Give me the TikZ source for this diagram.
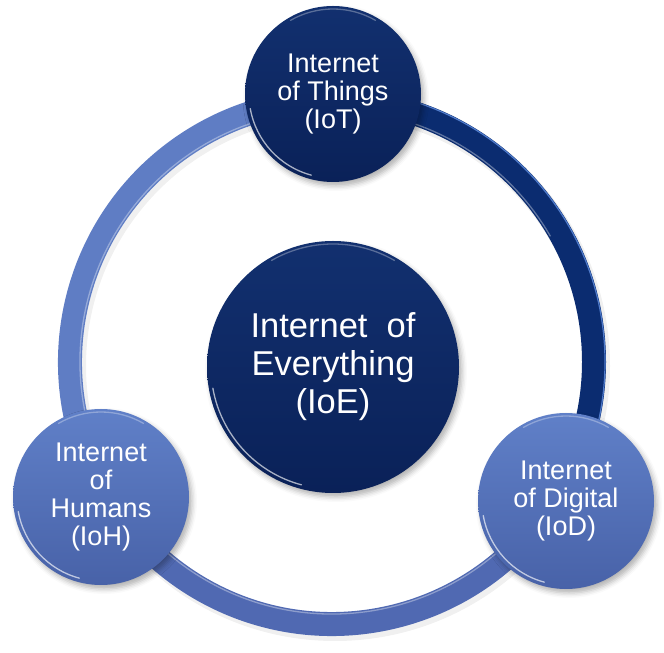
\documentclass[tikz,border=0pt]{standalone}
\usepackage{fontspec}
\setmainfont{Liberation Sans}
\usetikzlibrary{shadows.blur}

\definecolor{navytop}{HTML}{12306F}
\definecolor{navybot}{HTML}{0A2158}
\definecolor{bluetop}{HTML}{6080C8}
\definecolor{bluebot}{HTML}{4862A8}
\definecolor{ringnavy}{HTML}{0B2C70}
\definecolor{ringedge}{HTML}{4F7BCB}
\definecolor{ringlow}{HTML}{5069B2}
\definecolor{ringleft}{HTML}{5F7DC4}

\tikzset{
    hub/.style={circle, minimum size=252pt, inner sep=0pt, align=center,
        text=white, font=\fontsize{34.5}{38}\selectfont,
        top color=navytop, bottom color=navybot,
        blur shadow={shadow xshift=3pt, shadow yshift=-4pt,
                     shadow blur radius=5pt, shadow opacity=30}},
    darkspoke/.style={circle, minimum size=176pt, inner sep=0pt, align=center,
        text=white, font=\fontsize{27}{28}\selectfont,
        top color=navytop, bottom color=navybot,
        blur shadow={shadow xshift=3pt, shadow yshift=-4pt,
                     shadow blur radius=5pt, shadow opacity=30}},
    lightspoke/.style={darkspoke, top color=bluetop, bottom color=bluebot},
    ringpart/.style={line width=24pt},
    rim/.style={white, line width=1.3pt, opacity=.65, line cap=round},
}

\begin{document}
\begin{tikzpicture}[x=1pt, y=1pt]
    \useasboundingbox (0,0) rectangle (664,653);
    \coordinate (ringc) at (332,291);

    % ring behind the circles
    \draw[gray, line width=26pt, opacity=.12] ([shift={(3,-4)}]ringc) circle (262);
    \draw[ringpart, ringnavy] (ringc) ++(90:262)  arc[start angle=90,  end angle=-30, radius=262];
    \draw[ringpart, ringlow]  (ringc) ++(-30:262) arc[start angle=-30, end angle=-150, radius=262];
    \draw[ringpart, ringleft] (ringc) ++(210:262) arc[start angle=210, end angle=90, radius=262];
    \draw[ringedge, line width=1.2pt] (ringc) ++(90:273) arc[start angle=90, end angle=-30, radius=273];
    \draw[rim, opacity=.35] (ringc) ++(-30:252) arc[start angle=-30, end angle=-330, radius=252];

    % circles
    \node[hub] (IoE) at (333,286) {Internet\ \ of\\Everything\\(IoE)};
    \node[darkspoke] (IoT) at (333,559) {Internet\\of Things\\(IoT)};
    \node[lightspoke] (IoH) at (101,156) {Internet\\of\\Humans\\(IoH)};
    \node[lightspoke] (IoD) at (566,152) {Internet\\of Digital\\(IoD)};

    % bevel highlights
    \draw[rim] (IoE.center) ++(190:122) arc[start angle=190, end angle=255, radius=122];
    \draw[rim] (IoT.center) ++(190:84)  arc[start angle=190, end angle=255, radius=84];
    \draw[rim] (IoH.center) ++(190:84)  arc[start angle=190, end angle=255, radius=84];
    \draw[rim] (IoD.center) ++(190:84)  arc[start angle=190, end angle=255, radius=84];
    \draw[rim, opacity=.3] (IoE.center) ++(60:123) arc[start angle=60, end angle=120, radius=123];
    \draw[rim, opacity=.3] (IoT.center) ++(60:85)  arc[start angle=60, end angle=120, radius=85];
    \draw[rim, opacity=.3] (IoH.center) ++(60:85)  arc[start angle=60, end angle=120, radius=85];
    \draw[rim, opacity=.3] (IoD.center) ++(60:85)  arc[start angle=60, end angle=120, radius=85];
\end{tikzpicture}
\end{document}
